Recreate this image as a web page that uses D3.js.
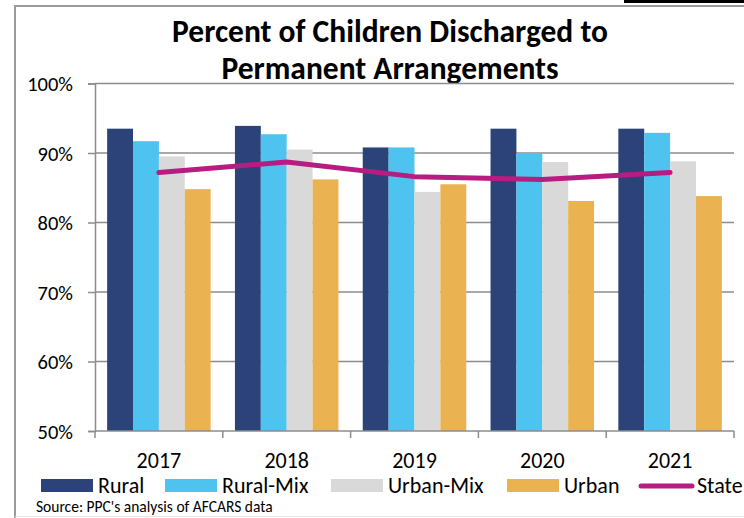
<!DOCTYPE html>
<html>
<head>
<meta charset="utf-8">
<title>Percent of Children Discharged to Permanent Arrangements</title>
<script src="https://cdn.jsdelivr.net/npm/d3@7"></script>
<style>
  body { margin: 0; background: #fff; }
  text { font-family: Carlito, Lato, "Liberation Sans", sans-serif; fill: #000; }
</style>
</head>
<body>
<svg id="chart" width="744" height="518"></svg>
<script>
// data
var years = ["2017", "2018", "2019", "2020", "2021"];
var series = ["Rural", "Rural-Mix", "Urban-Mix", "Urban"];
var rural    = [93.5, 93.9, 90.8, 93.5, 93.5];
var ruralMix = [91.7, 92.7, 90.8, 90.0, 92.9];
var urbanMix = [89.5, 90.5, 84.4, 88.7, 88.8];
var urban    = [84.8, 86.2, 85.5, 83.1, 83.8];
var state    = [87.2, 88.7, 86.6, 86.2, 87.2];
var yTicks = [50, 60, 70, 80, 90, 100];

var colors = ["#2b4379", "#4fc3ef", "#d9d9d9", "#eab251"];
var stateColor = "#b71c80";
var values = [rural, ruralMix, urbanMix, urban];

var svg = d3.select("#chart");

// frame
svg.append("rect").attr("x", 624).attr("y", 0).attr("width", 120).attr("height", 3).attr("fill", "#000");
svg.append("path").attr("d", "M15,518V6H744").attr("fill", "none").attr("stroke", "#9a9a9a").attr("stroke-width", 2);
svg.append("line").attr("x1", 15).attr("x2", 744).attr("y1", 516.5).attr("y2", 516.5).attr("stroke", "#e6e6e6");

// title
svg.append("text").attr("x", 390).attr("y", 42).attr("text-anchor", "middle")
  .style("font-size", "31.5px").style("font-weight", "bold").text("Percent of Children Discharged to");
svg.append("text").attr("x", 390).attr("y", 79).attr("text-anchor", "middle")
  .style("font-size", "31.5px").style("font-weight", "bold").text("Permanent Arrangements");

var mLeft = 95, mRight = 734, mTop = 83.5, mBottom = 431;

var x = d3.scaleBand().domain(years).range([mLeft, mRight]).paddingInner(0.19).paddingOuter(0.095);
var x1 = d3.scaleBand().domain(series).range([0, x.bandwidth()]);
var y = d3.scaleLinear().domain([50, 100]).range([mBottom, mTop]);

// gridlines
svg.append("g").selectAll("line").data(yTicks.slice(1)).join("line")
  .attr("x1", mLeft).attr("x2", mRight)
  .attr("y1", function(d) { return y(d); }).attr("y2", function(d) { return y(d); })
  .attr("stroke", "#8c8c8c").attr("stroke-width", 1.5);

// bars
svg.append("g").selectAll("g").data(years).join("g")
  .attr("transform", function(d) { return "translate(" + x(d) + ",0)"; })
  .selectAll("rect")
  .data(function(d, i) { return series.map(function(s, j) { return { s: s, v: values[j][i], c: colors[j] }; }); })
  .join("rect")
  .attr("x", function(d) { return x1(d.s); })
  .attr("width", x1.bandwidth())
  .attr("y", function(d) { return y(d.v); })
  .attr("height", function(d) { return mBottom - y(d.v); })
  .attr("fill", function(d) { return d.c; });

// y axis
var yAxis = svg.append("g").attr("transform", "translate(" + mLeft + ",0)")
  .call(d3.axisLeft(y).tickValues(yTicks).tickSize(7).tickPadding(15).tickFormat(function(d) { return d + "%"; }));
yAxis.select(".domain").attr("stroke", "#8c8c8c").attr("stroke-width", 1.5);
yAxis.selectAll(".tick line").attr("stroke", "#8c8c8c").attr("stroke-width", 1.5);
yAxis.selectAll(".tick text").style("font-size", "20.5px").attr("dy", "0.35em");

// x axis (ticks at category boundaries)
var xAxis = svg.append("g").attr("transform", "translate(0," + mBottom + ")");
xAxis.append("line").attr("x1", mLeft).attr("x2", mRight).attr("stroke", "#8c8c8c").attr("stroke-width", 1.5);
var step = x.step();
xAxis.selectAll(".bt").data(d3.range(years.length + 1)).join("line").attr("class", "bt")
  .attr("x1", function(i) { return mLeft + i * step; }).attr("x2", function(i) { return mLeft + i * step; })
  .attr("y1", 0).attr("y2", 7).attr("stroke", "#8c8c8c").attr("stroke-width", 1.5);
xAxis.selectAll("text").data(years).join("text")
  .attr("x", function(d) { return x(d) + x.bandwidth() / 2; })
  .attr("y", 37).attr("text-anchor", "middle").style("font-size", "22px")
  .text(function(d) { return d; });

// state line
var line = d3.line()
  .x(function(d, i) { return x(years[i]) + x.bandwidth() / 2; })
  .y(function(d) { return y(d); });
svg.append("path").datum(state).attr("d", line)
  .attr("fill", "none").attr("stroke", stateColor).attr("stroke-width", 5)
  .attr("stroke-linecap", "round").attr("stroke-linejoin", "round");

// legend
var legendItems = [
  { name: "Rural", c: colors[0], x: 41 },
  { name: "Rural-Mix", c: colors[1], x: 165 },
  { name: "Urban-Mix", c: colors[2], x: 331 },
  { name: "Urban", c: colors[3], x: 507 }
];
var lg = svg.append("g");
lg.selectAll("rect").data(legendItems).join("rect")
  .attr("x", function(d) { return d.x; }).attr("y", 479).attr("width", 52).attr("height", 13)
  .attr("fill", function(d) { return d.c; });
lg.selectAll("text.li").data(legendItems).join("text").attr("class", "li")
  .attr("x", function(d) { return d.x + 57; }).attr("y", 493).style("font-size", "22px")
  .text(function(d) { return d.name; });
lg.append("line").attr("x1", 641).attr("x2", 692).attr("y1", 486).attr("y2", 486)
  .attr("stroke", stateColor).attr("stroke-width", 5).attr("stroke-linecap", "round");
lg.append("text").attr("x", 697).attr("y", 493).style("font-size", "22px").text("State");

// source
svg.append("text").attr("x", 36).attr("y", 512).style("font-size", "15.5px")
  .text("Source: PPC's analysis of AFCARS data");
</script>
</body>
</html>
